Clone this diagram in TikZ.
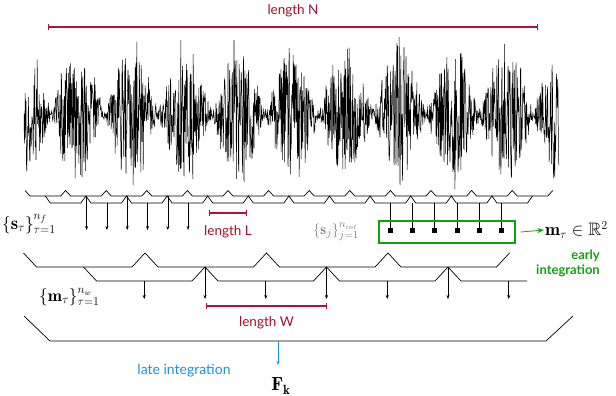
\documentclass[tikz,border=0pt]{standalone}
\usepackage{amsmath,amssymb}
\usepackage{fontspec}
\newfontfamily\lblfont{Lato}
\usetikzlibrary{arrows.meta,positioning}
\definecolor{lenred}{HTML}{A8153F}
\definecolor{txtred}{HTML}{A0102A}
\definecolor{green}{HTML}{14A014}
\definecolor{blue}{HTML}{1F8FE5}
% one row of overlapping frames: x0, width, count, y of peaks, y of base, slant
\newcommand{\framerow}[6]{%
  \draw[frm] (#1,#4) \foreach \k in {1,...,#3}{
    -- ({#1+(\k-1)*#2+#6},#5) -- ({#1+\k*#2-#6},#5) -- ({#1+\k*#2},#4)};}

\begin{document}
\begin{tikzpicture}[x=1pt,y=-1pt,>=Stealth,
frm/.style={line width=0.7pt},
arr/.style={-{Stealth[length=4pt,width=3pt]},line width=0.6pt},
bar/.style={{Bar[width=6pt]}-{Bar[width=6pt]},draw=lenred,line width=1.4pt},
lbl/.style={font=\lblfont\fontsize{13.5}{15}\selectfont,inner sep=1pt},
mth/.style={font=\fontsize{17}{20}\selectfont,inner sep=1pt},
sq/.style={fill,inner sep=0pt,minimum size=5pt}]
\useasboundingbox (0,0) rectangle (616,396);
% signal
\coordinate (nL) at (48,27);
\coordinate (nR) at (538,27);
\draw[bar] (nL) -- (nR);
\node[lbl,text=txtred] (lenN) at (293,11) {length N};
\pgfmathsetseed{11}
\draw[line width=0.5pt] (24,114) \foreach \x in {24.4,24.8,...,559}{
  -- (\x,{114+(0.07+0.93*abs(sin(3.358*(\x-51)))^1.2)*80*rand*(0.65+0.35*rnd)})};
% frames
\framerow{25}{40.6}{13}{190.5}{196}{5}
\framerow{45.3}{40.6}{12}{196}{203}{5}
\foreach \i in {0,...,5}{
  \pgfmathsetmacro{\xa}{86.6+20.3*\i}
  \pgfmathsetmacro{\ys}{mod(\i,2)==0 ? 196 : 203}
  \coordinate (ft\i) at (\xa,\ys);
  \coordinate (fb\i) at (\xa,230);
  \draw[arr] (ft\i) -- (fb\i);
}
\foreach \xa [count=\i] in {390,412,434,457,479,501}{
  \coordinate (st\i) at (\xa,203);
  \node[sq] (sq\i) at (\xa,230) {};
  \draw[line width=0.7pt] (st\i) -- (sq\i.center);
}
\node[draw=green,line width=1.5pt,minimum width=136pt,minimum height=22pt,inner sep=0pt] (box) at (447,232) {};
\node[mth,anchor=west,font=\fontsize{18}{20}\selectfont] (mR) at (544,230) {$\mathbf{m}_\tau\in\mathbb{R}^2$};
\draw[->,green,line width=0.8pt] ([xshift=5pt]box.east) -- (mR.west);
\node[lbl,text=green,font=\lblfont\bfseries\fontsize{13}{15}\selectfont,align=right,anchor=east] (early) at (601,263) {early\\integration};
\node[mth,anchor=west,font=\fontsize{18.5}{20}\selectfont] (sTau) at (1,224) {$\{\mathbf{s}_\tau\}_{\tau=1}^{n_f}$};
\node[mth,text=gray,font=\fontsize{15}{17}\selectfont] (sJ) at (336,232) {$\{\mathbf{s}_j\}_{j=1}^{n_{int}}$};
\coordinate (lL) at (209,213);
\coordinate (lR) at (247,213);
\draw[bar] (lL) -- (lR);
\path (lL) -- coordinate (lM) (lR);
\node[lbl,text=txtred,below=11pt of lM] (lenL) {length L};
% windows
\framerow{23.5}{121.5}{4}{253}{267}{13}
\framerow{83.5}{121.5}{3}{267}{281}{13}
\coordinate (wE) at (527,281);
\draw[frm] (448,267) -- (461,281) -- (wE);
\foreach \i in {0,...,6}{
  \pgfmathsetmacro{\xa}{144.25+60.75*\i}
  \pgfmathsetmacro{\ys}{mod(\i,2)==0 ? 281 : 267}
  \coordinate (wt\i) at (\xa,\ys);
  \coordinate (wb\i) at (\xa,299);
  \draw[arr] (wt\i) -- (wb\i);
}
\node[mth,anchor=west] (mTau) at (38,297) {$\{\mathbf{m}_\tau\}_{\tau=1}^{n_w}$};
\coordinate (wL) at (205.75,306);
\coordinate (wR) at (327.25,306);
\draw[bar] (wL) -- (wR);
\path (wL) -- coordinate (wM) (wR);
\node[lbl,text=txtred,below=9pt of wM] (lenW) {length W};
% file level
\coordinate (gA) at (24,316);
\coordinate (gB) at (50,341);
\coordinate (gC) at (546,341);
\coordinate (gD) at (573,316);
\draw[frm] (gA) -- (gB) -- (gC) -- (gD);
\coordinate (fk) at (278,341);
\node[mth,font=\fontsize{19}{20}\selectfont] (Fk) at (281,386) {$\mathbf{F_k}$};
\draw[arr,blue] (fk) -- ++(0,24);
\node[lbl,text=blue,font=\lblfont\fontsize{14}{16}\selectfont] (late) at (184,371) {late integration};
\end{tikzpicture}
\end{document}
